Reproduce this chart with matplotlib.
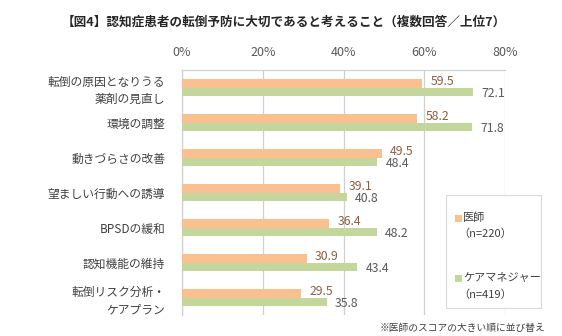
import matplotlib.pyplot as plt
from matplotlib.patches import Rectangle
import numpy as np

plt.rcParams['font.family'] = ['Noto Sans CJK JP', 'DejaVu Sans']

# === Data ===
categories = ["転倒の原因となりうる\n薬剤の見直し", "環境の調整", "動きづらさの改善",
              "望ましい行動への誘導", "BPSDの緩和", "認知機能の維持",
              "転倒リスク分析・\nケアプラン"]
doctors = [59.5, 58.2, 49.5, 39.1, 36.4, 30.9, 29.5]
caremgr = [72.1, 71.8, 48.4, 40.8, 48.2, 43.4, 35.8]
xticks = [0, 20, 40, 60, 80]
xticklabels = ["0%", "20%", "40%", "60%", "80%"]

orange = "#FAC090"
green = "#C3D69B"
grid_c = "#D0D0D0"

W, H = 562, 336
def fx(x):
    return x / W
def fy(y):
    return 1 - y / H

fig = plt.figure(figsize=(W / 100, H / 100), dpi=100)
ax = fig.add_axes([fx(182), fy(315), fx(505) - fx(182), fy(70) - fy(315)])

y = np.arange(len(categories))
h = 0.245
ax.barh(y - h / 2, doctors, height=h, color=orange, zorder=3)
ax.barh(y + h / 2, caremgr, height=h, color=green, zorder=3)

# value labels
for i, (d, c) in enumerate(zip(doctors, caremgr)):
    ax.annotate(f"{d:.1f}", (d, i - h / 2), xytext=(6, 1), textcoords="offset points",
                va="center", ha="left", fontsize=8.8, color="#8B5E3C")
    ax.annotate(f"{c:.1f}", (c, i + h / 2), xytext=(6, -1.5), textcoords="offset points",
                va="center", ha="left", fontsize=8.8, color="#595959")

ax.set_xlim(0, 80)
ax.set_ylim(len(categories) - 0.5, -0.5)
ax.set_xticks(xticks)
ax.set_xticklabels(xticklabels, fontsize=9, color="#595959")
ax.xaxis.tick_top()
ax.set_yticks(y)
ax.set_yticklabels(categories, fontsize=8.5, color="#404040", linespacing=1.4)
ax.tick_params(axis="x", length=0, pad=8)
ax.tick_params(axis="y", length=0, pad=12)
ax.grid(axis="x", color=grid_c, linewidth=0.9, zorder=0)
for s in ["right", "bottom"]:
    ax.spines[s].set_visible(False)
for s in ["top", "left"]:
    ax.spines[s].set_color(grid_c)
    ax.spines[s].set_linewidth(0.9)

# title
fig.text(fx(284), fy(22), "【図4】認知症患者の転倒予防に大切であると考えること（複数回答／上位7）",
         ha="center", va="center", fontsize=9.1, fontweight="bold", color="#262626")

# legend (manual box)
fig.patches.append(Rectangle((fx(446), fy(308)), fx(541) - fx(446), fy(195) - fy(308),
                             transform=fig.transFigure, facecolor="white",
                             edgecolor="#D9D9D9", linewidth=0.8, zorder=5))
legend_items = [("医師", "（n=220）", orange, 218, 234),
                ("ケアマネジャー", "（n=419）", green, 278, 295)]
for name, n, col, y1, y2 in legend_items:
    fig.patches.append(Rectangle((fx(455), fy(y1 + 3.5)), fx(7), 7 / H,
                                 transform=fig.transFigure, facecolor=col,
                                 edgecolor="none", zorder=6))
    fig.text(fx(463), fy(y1), name, ha="left", va="center", fontsize=8,
             color="#404040", zorder=7)
    fig.text(fx(458), fy(y2), n, ha="left", va="center", fontsize=8,
             color="#404040", zorder=7)

# footnote
fig.text(fx(545), fy(328), "※医師のスコアの大きい順に並び替え", ha="right", va="center",
         fontsize=7, color="#404040")

fig.savefig("out.png", dpi=100)
